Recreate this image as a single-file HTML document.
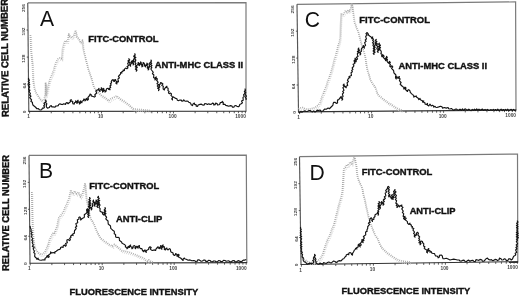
<!DOCTYPE html>
<html><head><meta charset="utf-8"><style>
html,body{margin:0;padding:0;background:#fff;width:520px;height:296px;overflow:hidden}
svg{position:absolute;left:0;top:0;will-change:transform}
text{font-family:"Liberation Sans",sans-serif;fill:#111}
text.lab{stroke:#111;stroke-width:0.4}
text.tk{fill:#444}
</style></head><body>
<svg width="520" height="296" viewBox="0 0 520 296">
<polyline points="27.75,2.9 246,2.6 246,111.2" fill="none" stroke="#7a7a7a" stroke-width="1.2"/>
<polyline points="27.75,2.9 28.8,111.3" fill="none" stroke="#555" stroke-width="1.15"/>
<polyline points="28.3,111.3 246.4,111.2" fill="none" stroke="#333" stroke-width="1.15"/>
<polyline points="29.0,155.4 246.3,155.2 246.8,262.6" fill="none" stroke="#7a7a7a" stroke-width="1.2"/>
<polyline points="29.0,155.4 30.0,263.2" fill="none" stroke="#555" stroke-width="1.15"/>
<polyline points="29.5,263.2 247.20000000000002,262.6" fill="none" stroke="#333" stroke-width="1.15"/>
<polyline points="297.0,4.3 515.6,1.9 516.0,110.0" fill="none" stroke="#7a7a7a" stroke-width="1.2"/>
<polyline points="297.0,4.3 298.5,111.9" fill="none" stroke="#555" stroke-width="1.15"/>
<polyline points="298.0,111.9 516.4,110.0" fill="none" stroke="#333" stroke-width="1.15"/>
<polyline points="299.5,156.7 517.5,154.0 517.8,261.6" fill="none" stroke="#7a7a7a" stroke-width="1.2"/>
<polyline points="299.5,156.7 301.0,264.5" fill="none" stroke="#555" stroke-width="1.15"/>
<polyline points="300.5,264.5 518.1999999999999,261.6" fill="none" stroke="#333" stroke-width="1.15"/>
<path d="M29.60,111.30v2.2 M51.25,111.29v2.0 M63.92,111.28v2.0 M72.91,111.28v2.0 M79.88,111.28v2.0 M85.58,111.27v2.0 M90.39,111.27v2.0 M94.56,111.27v2.0 M98.24,111.27v2.0 M101.53,111.27v2.2 M123.19,111.26v2.0 M135.85,111.25v2.0 M144.84,111.25v2.0 M151.81,111.24v2.0 M157.51,111.24v2.0 M162.32,111.24v2.0 M166.50,111.24v2.0 M170.18,111.23v2.0 M173.47,111.23v2.2 M195.12,111.22v2.0 M207.79,111.22v2.0 M216.77,111.21v2.0 M223.75,111.21v2.0 M229.44,111.21v2.0 M234.26,111.21v2.0 M238.43,111.20v2.0 M242.11,111.20v2.0 M245.40,111.20v2.2 M28.54,84.20h-1.5 M28.27,57.10h-1.5 M28.01,30.00h-1.5 M30.20,263.20v2.2 M51.87,263.14v2.0 M64.55,263.10v2.0 M73.55,263.08v2.0 M80.53,263.06v2.0 M86.23,263.04v2.0 M91.05,263.03v2.0 M95.22,263.02v2.0 M98.91,263.01v2.0 M102.20,263.00v2.2 M123.87,262.94v2.0 M136.55,262.91v2.0 M145.55,262.88v2.0 M152.53,262.86v2.0 M158.23,262.85v2.0 M163.05,262.83v2.0 M167.22,262.82v2.0 M170.91,262.81v2.0 M174.20,262.80v2.2 M195.87,262.74v2.0 M208.55,262.71v2.0 M217.55,262.68v2.0 M224.53,262.66v2.0 M230.23,262.65v2.0 M235.05,262.63v2.0 M239.22,262.62v2.0 M242.91,262.61v2.0 M246.20,262.60v2.2 M29.75,236.25h-1.5 M29.50,209.30h-1.5 M29.25,182.35h-1.5 M299.60,111.89v2.2 M321.27,111.70v2.0 M333.95,111.59v2.0 M342.95,111.51v2.0 M349.93,111.45v2.0 M355.63,111.40v2.0 M360.45,111.36v2.0 M364.62,111.32v2.0 M368.31,111.29v2.0 M371.60,111.26v2.2 M393.27,111.07v2.0 M405.95,110.96v2.0 M414.95,110.88v2.0 M421.93,110.82v2.0 M427.63,110.77v2.0 M432.45,110.73v2.0 M436.62,110.69v2.0 M440.31,110.66v2.0 M443.60,110.63v2.2 M465.27,110.44v2.0 M477.95,110.33v2.0 M486.95,110.25v2.0 M493.93,110.19v2.0 M499.63,110.14v2.0 M504.45,110.10v2.0 M508.62,110.06v2.0 M512.31,110.03v2.0 M515.60,110.00v2.2 M298.12,85.00h-1.5 M297.75,58.10h-1.5 M297.38,31.20h-1.5 M301.40,264.49v2.2 M323.07,264.20v2.0 M335.75,264.04v2.0 M344.75,263.91v2.0 M351.73,263.82v2.0 M357.43,263.75v2.0 M362.25,263.68v2.0 M366.42,263.62v2.0 M370.11,263.58v2.0 M373.40,263.53v2.2 M395.07,263.24v2.0 M407.75,263.07v2.0 M416.75,262.95v2.0 M423.73,262.86v2.0 M429.43,262.78v2.0 M434.25,262.72v2.0 M438.42,262.66v2.0 M442.11,262.61v2.0 M445.40,262.57v2.2 M467.07,262.28v2.0 M479.75,262.11v2.0 M488.75,261.99v2.0 M495.73,261.90v2.0 M501.43,261.82v2.0 M506.25,261.75v2.0 M510.42,261.70v2.0 M514.11,261.65v2.0 M517.40,261.61v2.2 M300.62,237.55h-1.5 M300.25,210.60h-1.5 M299.88,183.65h-1.5" stroke="#333" stroke-width="0.8" fill="none"/>
<polyline points="31.40,37.00 31.90,52.00 33.40,67.00 34.00,82.00 35.30,90.75 37.15,95.00 39.00,97.60 40.90,101.00 42.90,102.50 44.90,102.00 46.10,97.00 46.50,84.50 47.10,97.00 48.40,92.00 49.65,85.75 50.90,80.75 52.80,77.00 54.65,72.00 55.90,67.00 57.15,63.90 58.90,61.00 60.90,60.00 62.80,60.75 63.40,51.50 64.65,46.50 65.90,42.75 68.40,44.00 69.65,36.00 70.90,38.50 72.80,39.75 74.65,37.90 76.50,32.25 77.80,39.10 79.65,40.40 81.50,44.75 83.40,42.25 84.00,50.00 85.30,55.75 86.50,60.75 87.80,65.75 89.00,70.75 90.30,74.50 91.50,77.60 92.90,82.00 94.40,88.00 95.90,91.00 99.65,94.75 102.80,97.90 105.30,99.10 107.80,101.00 109.65,102.90 112.15,100.40 115.30,99.10 117.80,97.90 119.65,99.75 122.15,101.60 124.65,102.90 127.15,104.75 129.65,106.60 132.15,109.10 134.65,111.00 140.90,111.50 150.90,112.50" fill="none" stroke="#d2d2d2" stroke-width="1.3" stroke-dasharray="0.8 1.2" stroke-linejoin="round"/>
<polyline points="30.5,35 31,50 32.5,65 33.1,80 34.4,88.75 36.25,93 38.1,95.6 40,99 42,100.5 44,100 45.2,95 45.6,82.5 46.2,95 47.5,90 48.75,83.75 50,78.75 51.9,75 53.75,70 55,65 56.25,61.9 58,59 60,58 61.9,58.75 62.5,49.5 63.75,44.5 65,40.75 67.5,42 68.75,34 70,36.5 71.9,37.75 73.75,35.9 75.6,30.25 76.9,37.1 78.75,38.4 80.6,42.75 82.5,40.25 83.1,48 84.4,53.75 85.6,58.75 86.9,63.75 88.1,68.75 89.4,72.5 90.6,75.6 92,80 93.5,86 95,89 98.75,92.75 101.9,95.9 104.4,97.1 106.9,99 108.75,100.9 111.25,98.4 114.4,97.1 116.9,95.9 118.75,97.75 121.25,99.6 123.75,100.9 126.25,102.75 128.75,104.6 131.25,107.1 133.75,109 140,109.5 150,110.5" fill="none" stroke="#a8a8a8" stroke-width="1.7" stroke-dasharray="0.9 1.1" stroke-linejoin="round"/>
<polyline points="28.8,78 28.33,79.13 29.48,80.2 28.23,81.35 29.44,82.43 28.46,83.57 29.8,84.64 28.29,85.8 29.68,86.87 29.1,88.0 28.6,89.22 29.99,90.17 29.07,91.45 29.75,92.5 30.43,93.68 29.48,95.08 31.02,96.15 29.69,97.6 30.6,98.75 31.6,99.8 30.9,101.5 32.4,102.36 32.5,103.75 33.1,105.27 34.4,106.25 35.6,107.25 36.9,108.75 38.38,108.68 39.4,109.75 40.72,110.04 41.9,109.4 42.36,108.09 43.75,108.1 44.52,107.1 43.71,105.74 44.92,104.83 43.94,103.44 45.0,102.5 45.94,101.4 45.6,100.0 46.29,101.17 45.6,102.58 46.8,103.66 46.5,105.0 46.32,106.77 47.5,108.1 49.4,107.5 49.94,106.17 51.25,105.6 51.73,106.88 53.1,106.9 55.0,107.25 55.62,106.12 56.9,106.0 58.22,105.66 58.75,104.4 60.0,103.8 61.25,104.4 62.62,104.55 63.75,103.75 65.6,104.4 65.84,103.17 66.9,102.5 68.1,103.75 69.4,102.5 70.52,101.85 70.23,100.31 71.25,99.6 70.93,100.94 72.77,101.43 72.5,102.75 73.15,103.83 74.4,104.0 74.3,102.77 75.73,102.14 75.6,100.9 76.68,101.92 76.9,103.4 77.71,102.51 77.21,101.12 78.1,100.25 77.98,101.69 79.45,102.58 79.4,104.0 80.36,103.19 79.83,101.79 80.6,100.9 80.79,102.15 81.9,102.75 81.96,101.23 83.59,100.48 83.75,99.0 84.98,99.55 85.0,100.9 86.13,99.9 86.25,98.4 87.22,99.09 87.5,100.25 88.51,99.2 87.81,97.58 88.75,96.5 89.7,95.41 90.0,94.0 91.13,94.62 91.25,95.9 93.1,96.5 94.4,97.1 95.36,96.29 94.72,94.85 95.6,94.0 96.76,93.0 95.83,91.28 96.9,90.25 98.1,89.6 99.0,88.4 98.72,90.2 100.0,91.5 99.98,90.1 101.36,89.18 101.25,87.75 102.21,88.65 101.52,90.03 102.61,90.89 102.5,92.1 103.63,91.11 102.95,89.5 103.75,88.4 103.71,89.79 105.05,90.71 105.0,92.1 106.14,91.11 106.25,89.6 106.88,88.54 108.1,88.4 108.73,89.51 110.0,89.6 109.39,88.32 110.72,87.34 109.86,86.02 111.17,85.04 110.42,83.74 111.55,82.73 111.25,81.5 111.86,80.24 113.1,79.6 113.26,80.89 114.4,81.5 114.3,80.11 115.6,79.6 115.45,80.84 116.99,81.58 115.78,83.14 116.9,84.0 116.76,82.58 118.46,81.74 118.1,80.25 117.95,78.88 119.38,77.91 118.42,76.33 119.4,75.25 120.48,74.08 120.6,72.5 121.9,73.1 121.75,71.85 123.12,71.2 123.1,70.0 124.4,70.6 124.48,69.1 125.6,68.1 126.9,68.75 127.97,67.88 127.0,66.44 128.53,65.69 128.1,64.4 127.62,63.2 129.18,62.23 127.85,60.94 129.39,59.97 128.75,58.75 129.72,59.86 128.49,61.4 130.04,62.39 129.75,63.75 129.7,65.16 130.6,66.25 130.42,64.74 131.42,63.41 131.25,61.9 132.25,60.6 133.04,61.59 132.14,62.9 133.39,63.8 133.1,65.0 133.77,63.82 132.83,62.41 134.19,61.33 133.35,59.93 134.0,58.75 134.69,57.58 133.63,56.14 135.07,55.08 134.75,53.75 135.24,54.97 134.37,56.3 135.9,57.43 134.47,58.81 135.83,59.95 135.4,61.25 134.9,62.41 135.95,63.44 135.13,64.63 136.25,65.65 135.31,66.85 136.58,67.86 135.32,69.09 136.57,70.1 136.25,71.25 136.99,70.09 135.83,68.62 137.3,67.57 136.4,66.15 137.25,65.0 138.12,63.9 138.1,62.5 139.1,63.3 138.34,64.83 139.4,65.6 139.44,64.25 140.59,63.26 140.6,61.9 141.43,63.02 140.8,64.52 142.07,65.52 141.9,66.9 142.99,66.02 142.12,64.6 143.45,63.78 143.1,62.5 144.2,63.14 144.4,64.4 144.63,65.83 145.6,66.9 145.25,65.36 146.84,64.49 146.9,63.1 147.73,64.14 146.57,65.53 148.17,66.43 147.18,67.79 148.38,68.77 148.1,70.0 148.89,69.04 148.29,67.66 149.69,66.88 149.4,65.6 149.05,63.84 150.25,62.5 151.25,61.44 151.0,60.0 151.49,61.09 150.46,62.25 151.69,63.31 150.39,64.49 151.96,65.52 150.85,66.69 151.82,67.76 150.9,68.92 151.5,70.0 152.5,71.25 153.27,72.32 152.39,73.82 153.81,74.72 153.75,76.0 153.56,77.52 155.04,78.52 155.0,80.0 155.75,79.1 155.29,77.71 156.25,76.9 156.11,78.12 157.46,78.91 156.62,80.33 157.5,81.25 158.08,82.37 156.96,83.67 158.7,84.67 157.3,86.0 158.52,87.05 157.63,88.33 159.17,89.35 158.5,90.6 159.19,89.43 158.47,88.01 159.87,86.97 159.4,85.6 159.35,84.39 160.97,83.83 160.6,82.5 161.9,83.1 162.95,83.99 161.79,85.49 163.38,86.24 163.1,87.5 163.18,89.05 164.4,90.0 164.59,88.55 165.6,87.5 166.9,86.25 166.57,87.58 168.11,88.19 168.1,89.4 167.93,90.64 169.15,91.46 168.43,92.86 169.4,93.75 170.6,93.1 171.53,93.95 170.93,95.42 171.9,96.25 172.81,97.39 171.73,98.84 172.5,100.0 172.27,98.21 173.5,96.9 175.0,98.1 176.9,98.75 177.32,100.18 178.75,100.6 180.0,100.0 181.29,100.11 181.9,101.25 183.11,100.85 183.75,99.75 185.0,101.25 186.9,101.0 188.05,101.29 188.75,102.25 190.6,103.1 191.12,104.68 192.5,105.6 193.02,104.02 194.4,103.1 194.66,104.36 196.22,104.85 196.25,106.25 197.64,106.31 198.1,105.0 200.0,104.4 201.4,104.07 202.5,105.0 203.95,105.18 204.83,103.65 206.25,103.75 207.41,104.47 208.83,103.73 210.0,104.4 211.5,104.22 212.5,103.1 213.74,103.65 213.75,105.0 215.22,104.58 215.6,103.1 217.1,103.5 217.5,105.0 218.93,104.74 220.0,103.75 220.3,102.51 221.96,102.5 222.25,101.25 223.31,102.65 223.1,104.4 225.0,104.4 225.75,105.32 226.9,105.6 228.75,106.25 230.6,105.6 231.96,105.95 232.5,107.25 233.81,107.17 234.4,106.0 235.72,105.47 236.9,106.25 238.22,106.81 239.4,106.0 239.77,104.42 241.25,103.75 242.45,102.77 241.48,100.99 243.24,100.22 243.1,98.75 242.98,97.38 244.3,96.39 243.49,94.85 244.4,93.75 245.05,92.63 244.28,91.32 245.43,90.26 245.0,89.0 245.52,90.16 244.8,91.44 245.77,92.56 245.04,93.84 245.6,95.0 246.39,96.19 245.33,97.54 246.27,98.72 246.0,100.0" fill="none" stroke="#151515" stroke-width="1.15"  stroke-linejoin="round"/>
<polyline points="32.70,194.00 33.20,217.00 33.70,232.00 34.40,242.00 35.30,248.25 37.15,252.00 38.40,253.90 40.30,255.75 41.90,256.50 44.00,255.75 45.90,253.90 47.80,249.50 49.00,247.00 50.30,242.00 51.50,239.50 52.80,237.00 54.00,234.50 55.30,235.10 56.50,232.00 57.80,228.75 59.65,220.00 61.50,217.50 63.40,215.00 64.65,213.10 65.90,209.40 67.90,205.50 69.80,200.70 71.70,192.00 73.70,195.90 75.60,193.00 77.50,195.90 79.40,194.00 81.40,198.80 83.30,195.90 85.20,189.20 85.90,185.00 86.70,194.00 87.40,201.25 89.10,209.40 90.00,215.00 91.50,220.75 93.40,223.25 95.30,227.00 96.50,230.75 97.80,233.25 99.00,235.75 100.30,238.25 102.15,240.75 104.00,242.00 105.90,243.90 107.80,244.50 109.65,246.40 111.50,247.00 113.40,248.25 115.30,246.40 117.15,247.60 119.00,249.50 120.90,250.75 122.80,252.60 126.90,253.50 130.90,254.50 135.90,256.50 140.90,258.75 142.80,259.40 144.65,260.00 146.50,261.90 148.40,263.10 149.65,261.90 152.15,263.75 154.65,264.40" fill="none" stroke="#d2d2d2" stroke-width="1.3" stroke-dasharray="0.8 1.2" stroke-linejoin="round"/>
<polyline points="31.8,192 32.3,215 32.8,230 33.5,240 34.4,246.25 36.25,250 37.5,251.9 39.4,253.75 41,254.5 43.1,253.75 45,251.9 46.9,247.5 48.1,245 49.4,240 50.6,237.5 51.9,235 53.1,232.5 54.4,233.1 55.6,230 56.9,226.75 58.75,218 60.6,215.5 62.5,213 63.75,211.1 65,207.4 67,203.5 68.9,198.7 70.8,190 72.8,193.9 74.7,191 76.6,193.9 78.5,192 80.5,196.8 82.4,193.9 84.3,187.2 85,183 85.8,192 86.5,199.25 88.2,207.4 89.1,213 90.6,218.75 92.5,221.25 94.4,225 95.6,228.75 96.9,231.25 98.1,233.75 99.4,236.25 101.25,238.75 103.1,240 105,241.9 106.9,242.5 108.75,244.4 110.6,245 112.5,246.25 114.4,244.4 116.25,245.6 118.1,247.5 120,248.75 121.9,250.6 126,251.5 130,252.5 135,254.5 140,256.75 141.9,257.4 143.75,258 145.6,259.9 147.5,261.1 148.75,259.9 151.25,261.75 153.75,262.4" fill="none" stroke="#a8a8a8" stroke-width="1.7" stroke-dasharray="0.9 1.1" stroke-linejoin="round"/>
<polyline points="30,226 30.5,228.0 31.25,230.0 30.73,231.3 32.18,232.44 31.02,233.8 32.22,234.95 31.31,236.29 31.9,237.5 32.87,238.64 31.68,240.08 32.79,241.2 32.16,242.56 32.75,243.75 33.32,244.94 32.36,246.38 34.17,247.37 33.12,248.82 33.75,250.0 34.43,251.16 33.76,252.6 35.0,253.65 34.75,255.0 34.65,256.43 35.6,257.5 36.56,258.24 36.9,259.4 38.1,258.1 38.29,259.36 39.4,260.0 41.25,260.25 43.1,259.75 45.0,260.0 44.97,258.42 46.25,257.5 47.25,255.6 48.1,257.5 49.25,256.77 48.41,255.2 49.4,254.4 50.63,253.45 50.6,251.9 51.9,253.1 53.1,252.5 55.0,253.1 54.94,251.71 56.25,251.25 57.75,250.0 59.4,249.4 60.54,248.79 60.6,247.5 61.9,246.9 63.1,247.5 63.16,245.94 64.4,245.0 65.6,246.25 66.29,245.09 65.53,243.56 67.35,242.7 66.9,241.25 66.92,239.95 68.1,239.4 69.4,240.6 70.4,239.71 69.61,238.32 70.98,237.53 70.6,236.25 71.9,235.0 73.1,235.6 72.74,234.09 74.4,233.28 74.4,231.9 74.56,230.48 75.6,229.5 76.25,228.45 75.39,227.17 76.81,226.23 76.25,225.0 75.9,223.5 77.76,222.73 77.5,221.25 77.32,219.8 79.08,219.0 78.75,217.5 79.75,216.9 80.74,218.29 80.6,220.0 81.9,218.75 83.1,218.1 84.2,217.49 84.4,216.25 84.3,214.66 85.6,213.75 86.86,212.82 86.9,211.25 86.48,209.83 87.5,208.75 86.89,209.93 88.33,210.87 87.13,212.12 88.53,213.06 87.68,214.27 88.67,215.26 87.76,216.48 88.5,217.5 87.91,216.36 89.29,215.31 87.88,214.13 89.21,213.08 88.28,211.92 89.4,210.86 88.12,209.68 89.66,208.65 89.0,207.5 88.46,206.35 89.96,205.33 88.62,204.13 89.67,203.08 88.57,201.9 89.95,200.87 88.97,199.69 89.93,198.63 89.6,197.5 90.23,198.57 88.98,199.77 90.54,200.79 89.28,201.98 90.58,203.02 89.58,204.2 90.78,205.23 89.58,206.43 90.25,207.5 91.4,208.49 91.25,210.0 91.94,208.84 91.47,207.4 92.65,206.37 92.5,205.0 92.1,203.62 93.6,202.62 92.88,201.18 93.5,200.0 93.36,201.36 94.61,202.38 94.4,203.75 94.0,205.17 95.0,206.25 94.6,204.9 95.84,203.82 95.18,202.43 96.19,201.31 96.0,200.0 97.03,201.04 96.9,202.5 96.57,203.84 97.88,204.91 96.82,206.37 97.75,207.5 97.01,206.32 98.38,205.28 97.14,204.07 98.82,203.05 97.33,201.82 98.67,200.78 97.8,199.59 99.12,198.55 97.6,197.32 98.5,196.25 98.23,197.39 99.19,198.43 98.03,199.65 99.69,200.62 98.29,201.87 99.53,202.88 98.83,204.06 100.07,205.07 99.4,206.25 99.05,207.59 100.17,208.69 100.0,210.0 100.05,211.33 101.25,211.9 102.53,212.38 102.5,213.75 103.75,215.0 104.63,213.86 103.79,212.44 105.0,211.35 104.2,209.94 105.24,208.82 105.0,207.5 105.47,208.69 104.64,209.97 105.84,211.1 104.68,212.4 105.9,213.54 104.74,214.84 105.6,216.0 106.6,217.15 105.74,218.9 106.9,220.0 108.03,221.0 108.1,222.5 108.23,224.02 109.4,225.0 110.38,225.71 110.6,226.9 110.75,228.41 111.9,229.4 113.1,230.6 114.25,231.21 114.4,232.5 114.18,233.77 115.59,234.42 115.6,235.6 115.67,236.95 116.9,237.5 118.1,237.25 119.32,237.98 119.4,239.4 119.56,240.61 120.6,241.25 121.58,241.95 121.9,243.1 123.1,243.75 124.4,244.4 125.6,245.6 125.34,246.94 126.99,247.48 126.9,248.75 128.05,247.76 128.1,246.25 129.4,247.5 129.54,246.03 130.6,245.0 130.41,246.47 131.91,247.35 131.9,248.75 133.13,247.8 133.1,246.25 134.4,245.6 135.33,246.45 134.85,247.84 135.6,248.75 135.85,247.29 136.9,246.25 137.12,247.42 138.1,248.1 138.01,246.46 139.4,245.6 139.33,247.37 140.6,248.6 141.9,248.6 142.5,250.5 143.75,251.75 143.93,250.52 145.0,249.9 145.21,251.36 146.25,252.4 146.19,250.81 147.5,249.9 148.66,249.3 148.75,248.0 150.0,246.75 151.17,247.5 150.35,249.04 151.25,249.9 152.5,250.5 154.4,249.9 155.6,250.5 155.92,249.08 156.9,248.0 158.1,246.75 158.33,247.97 159.4,248.6 159.44,247.43 160.72,246.74 160.6,245.5 161.46,246.6 160.73,248.26 161.9,249.25 161.52,247.98 163.0,247.21 162.07,245.79 163.1,244.9 162.87,246.21 164.35,246.8 164.4,248.0 164.31,249.39 165.6,249.9 165.75,248.61 166.9,248.0 167.07,249.22 168.1,249.9 169.4,248.6 170.36,249.32 170.6,250.5 170.75,251.79 171.9,252.4 173.11,252.93 173.1,254.25 174.4,255.5 175.4,254.81 175.6,253.6 176.97,254.48 176.9,256.1 178.19,255.62 178.1,254.25 179.16,255.04 178.25,256.65 179.4,257.4 180.6,258.0 181.9,259.25 183.1,260.5 183.2,258.96 184.4,258.0 185.05,259.03 186.25,259.25 188.1,260.25 190.0,259.9 191.9,260.75 193.75,260.5 194.96,260.71 195.6,261.75 197.04,261.49 197.5,260.1 198.84,259.71 200.0,260.5 201.15,261.25 202.5,261.0 203.58,260.07 205.0,260.1 205.91,261.41 207.5,261.4 208.52,260.31 210.0,260.5 211.07,261.49 212.5,261.75 213.62,260.95 215.0,261.0 216.13,261.76 217.5,261.75 218.49,260.59 220.0,260.75 221.06,261.8 222.5,261.4 223.52,260.32 225.0,260.5 226.16,261.2 227.5,261.0 228.89,260.91 230.0,261.75 231.48,261.83 232.5,260.75 233.93,260.51 235.0,261.5 236.41,262.07 237.5,261.0 238.84,260.62 240.0,261.4 241.44,261.8 242.5,260.75 243.66,260.06 245.0,260.1 246.25,259.5" fill="none" stroke="#151515" stroke-width="1.15"  stroke-linejoin="round"/>
<polyline points="299.40,111.00 300.90,110.10 303.40,109.50 305.90,110.75 308.40,111.40 312.15,110.75 314.65,110.10 317.15,108.70 319.00,107.25 320.90,104.75 322.15,101.00 323.40,97.25 324.65,94.75 325.90,91.00 327.15,88.50 328.40,83.50 329.65,81.00 330.90,77.25 331.50,75.25 332.80,71.50 334.00,66.50 335.30,61.50 336.50,57.75 337.80,52.75 339.00,47.75 340.30,44.00 341.20,39.00 341.50,27.00 342.10,16.00 344.00,16.40 345.30,14.50 346.50,12.60 347.80,13.90 349.00,12.00 350.30,13.25 351.50,10.75 352.80,5.75 353.40,9.50 354.00,14.50 354.65,19.50 355.30,24.50 356.50,27.00 357.15,29.50 359.00,33.25 360.30,38.25 361.50,43.25 362.80,47.60 364.00,51.40 365.30,55.75 366.50,60.75 367.15,66.50 368.40,72.75 369.65,76.00 370.90,81.00 372.15,83.50 373.40,85.40 374.65,87.25 375.90,88.50 377.15,92.25 378.40,96.00 380.30,97.90 382.15,99.10 384.00,101.00 385.90,102.25 387.80,103.50 389.65,105.40 391.50,106.00 393.40,107.25 395.90,109.10 398.40,110.40 400.90,111.60 403.40,112.25" fill="none" stroke="#d2d2d2" stroke-width="1.3" stroke-dasharray="0.8 1.2" stroke-linejoin="round"/>
<polyline points="298.5,109 300,108.1 302.5,107.5 305,108.75 307.5,109.4 311.25,108.75 313.75,108.1 316.25,106.7 318.1,105.25 320,102.75 321.25,99 322.5,95.25 323.75,92.75 325,89 326.25,86.5 327.5,81.5 328.75,79 330,75.25 330.6,73.25 331.9,69.5 333.1,64.5 334.4,59.5 335.6,55.75 336.9,50.75 338.1,45.75 339.4,42 340.3,37 340.6,25 341.2,14 343.1,14.4 344.4,12.5 345.6,10.6 346.9,11.9 348.1,10 349.4,11.25 350.6,8.75 351.9,3.75 352.5,7.5 353.1,12.5 353.75,17.5 354.4,22.5 355.6,25 356.25,27.5 358.1,31.25 359.4,36.25 360.6,41.25 361.9,45.6 363.1,49.4 364.4,53.75 365.6,58.75 366.25,64.5 367.5,70.75 368.75,74 370,79 371.25,81.5 372.5,83.4 373.75,85.25 375,86.5 376.25,90.25 377.5,94 379.4,95.9 381.25,97.1 383.1,99 385,100.25 386.9,101.5 388.75,103.4 390.6,104 392.5,105.25 395,107.1 397.5,108.4 400,109.6 402.5,110.25" fill="none" stroke="#a8a8a8" stroke-width="1.7" stroke-dasharray="0.9 1.1" stroke-linejoin="round"/>
<polyline points="298.5,111.9 299.67,112.57 300.72,111.33 301.91,112.22 303.0,111.6 304.46,110.92 306.0,111.4 307.52,111.5 308.75,110.6 310.2,110.5 311.25,111.5 312.52,111.85 313.73,110.89 315.04,112.12 316.25,111.25 317.27,110.09 318.75,110.5 320.0,110.0 321.25,111.3 322.77,111.16 323.75,110.0 324.79,108.96 326.25,109.2 328.1,108.1 329.4,108.75 330.6,107.5 331.9,106.25 332.94,105.21 333.1,103.75 333.6,102.44 335.0,102.3 336.25,103.4 337.57,102.91 337.5,101.5 337.46,100.11 338.75,99.6 340.0,97.9 341.25,96.4 340.65,97.82 342.38,98.85 341.9,100.25 342.74,99.11 341.92,97.68 343.05,96.59 342.75,95.25 342.38,93.94 343.66,92.82 342.7,91.44 343.96,90.32 343.5,89.0 342.88,87.68 344.26,86.55 343.14,85.18 344.0,84.0 344.09,85.41 345.0,86.5 346.25,87.75 345.99,86.34 347.69,85.46 347.25,84.0 347.09,82.69 348.43,81.63 347.42,80.17 348.1,79.0 349.12,77.95 349.0,76.5 350.0,77.75 349.63,76.24 351.47,75.46 351.25,74.0 351.02,72.69 352.39,71.81 351.61,70.35 352.9,69.44 352.15,68.0 353.1,67.0 353.86,65.86 353.08,64.33 354.86,63.45 354.4,62.0 354.05,60.65 355.29,59.54 355.0,58.2 355.75,59.38 354.91,60.81 355.6,62.0 356.25,61.25 356.13,59.93 357.54,58.91 356.34,57.37 358.06,56.41 357.5,55.0 357.34,53.78 358.47,52.8 357.38,51.41 358.76,50.48 358.1,49.17 358.75,48.1 358.44,49.27 359.58,50.23 358.57,51.5 359.4,52.5 360.44,53.57 360.0,55.0 360.77,53.86 359.97,52.34 361.42,51.37 361.25,50.0 361.48,48.55 362.5,47.5 363.5,45.6 363.45,47.03 364.4,48.1 364.15,46.59 365.58,45.31 365.0,43.75 364.64,42.41 366.09,41.36 365.23,39.94 366.48,38.86 366.0,37.5 365.68,36.15 367.2,35.14 365.98,33.63 366.9,32.5 368.1,33.75 368.67,35.29 370.0,36.25 371.42,37.15 371.9,38.75 372.75,36.9 372.32,38.11 373.5,39.19 372.66,40.44 373.78,41.52 372.42,42.81 373.97,43.86 372.89,45.12 373.5,46.25 374.06,47.4 373.28,48.63 374.33,49.75 373.13,51.0 374.59,52.1 373.23,53.36 374.0,54.5 373.72,53.27 375.05,52.21 373.81,50.88 375.13,49.82 374.13,48.51 375.14,47.42 374.36,46.13 375.0,45.0 375.81,44.0 375.02,42.65 376.32,41.77 375.21,40.34 376.25,39.4 375.62,40.65 376.9,41.67 375.86,42.97 377.62,43.93 376.2,45.28 377.65,46.28 377.25,47.5 376.77,48.87 378.4,49.88 377.35,51.34 378.1,52.5 377.56,51.23 378.89,50.21 378.2,48.92 379.42,47.89 378.54,46.57 379.75,45.54 378.64,44.19 379.4,43.1 379.01,44.32 380.47,45.3 379.25,46.62 380.55,47.63 379.32,48.95 380.25,50.0 381.15,51.09 381.25,52.5 380.89,53.74 382.21,54.6 381.51,55.91 382.25,56.9 383.1,55.0 384.09,56.06 383.52,57.66 384.4,58.75 385.34,59.45 385.6,60.6 386.48,59.65 385.43,58.3 386.64,57.41 386.5,56.25 387.31,57.29 386.47,58.62 387.52,59.63 386.89,60.92 387.5,62.0 388.75,63.25 389.4,61.4 390.34,62.37 389.44,63.73 390.49,64.68 389.72,66.02 390.6,67.0 391.9,65.75 392.74,66.9 391.55,68.37 392.5,69.5 393.46,70.23 393.75,71.4 393.9,72.93 395.0,74.0 396.01,75.08 395.6,76.5 395.51,77.86 396.25,79.0 396.0,77.6 396.9,76.5 397.14,77.68 398.1,78.4 398.42,77.23 399.4,76.5 399.03,77.81 400.09,78.95 399.42,80.3 400.0,81.5 401.08,82.53 400.14,84.23 401.25,85.25 402.5,86.5 403.84,87.39 403.75,89.0 404.96,88.43 405.0,87.1 406.01,87.92 405.41,89.37 406.25,90.25 407.5,91.5 407.76,90.31 408.75,89.6 410.0,90.9 410.27,92.33 411.25,93.4 412.5,94.6 413.78,95.52 413.75,97.1 415.0,96.5 416.25,95.9 416.46,97.11 417.5,97.75 418.51,98.41 418.75,99.6 420.0,98.4 420.26,99.57 421.25,100.25 422.48,100.77 422.5,102.1 423.75,100.9 423.46,102.22 424.97,102.81 425.0,104.0 426.25,104.6 427.5,103.4 427.4,105.01 428.75,105.9 430.0,104.2 431.25,106.0 432.5,105.25 433.52,105.91 433.75,107.1 435.0,106.25 435.73,107.22 436.9,107.5 438.75,106.9 440.6,106.25 441.97,106.75 442.5,108.1 444.4,107.5 446.25,108.1 448.1,107.5 448.7,108.7 450.0,109.0 451.37,108.47 452.5,109.4 453.75,110.19 455.0,109.4 456.32,109.05 457.5,109.75 458.76,110.19 459.99,109.1 461.26,110.29 462.49,108.93 463.76,110.31 464.99,108.85 466.25,109.6 467.45,110.22 468.83,109.15 470.0,110.0 471.15,110.62 472.23,109.43 473.39,110.27 474.48,109.21 475.64,110.23 476.72,108.97 477.89,110.1 478.98,109.2 480.15,110.26 481.25,109.6 482.53,109.14 483.72,110.3 485.02,109.41 486.23,110.28 487.53,109.38 488.73,110.46 490.0,110.1 491.1,109.64 492.23,110.46 493.32,109.35 494.45,110.39 495.55,109.5 496.68,110.59 497.76,109.22 498.9,110.69 500.0,109.9 501.12,109.14 502.21,110.75 503.34,109.49 504.44,110.67 505.56,109.44 506.66,110.63 507.79,109.23 508.88,110.67 510.0,110.0 511.19,109.34 512.41,110.66 513.59,109.43 514.81,110.57 516.0,109.9" fill="none" stroke="#151515" stroke-width="1.15"  stroke-linejoin="round"/>
<polyline points="302.40,252.00 302.80,258.25 304.65,261.40 306.00,261.70 307.15,262.60 309.00,263.90 310.90,264.50 313.90,264.50 316.90,264.00 318.40,263.25 319.65,262.00 321.50,260.10 322.80,257.60 324.00,255.10 325.30,250.75 326.50,247.00 327.80,243.25 329.00,240.75 330.30,238.25 331.50,235.00 332.90,231.00 334.65,227.00 335.30,224.75 336.50,219.75 337.80,214.75 339.00,209.75 340.30,204.75 341.50,201.00 342.80,196.00 343.40,191.00 344.00,182.00 344.65,171.50 345.30,169.60 346.50,169.00 347.80,166.50 349.00,167.75 350.30,165.25 351.50,164.00 352.80,165.90 354.00,162.75 355.30,158.40 356.15,162.75 357.15,167.75 357.80,175.25 358.40,179.00 359.65,182.75 360.90,185.25 362.15,187.75 363.40,191.50 364.00,196.00 365.30,200.40 366.50,206.00 367.80,212.25 369.00,217.25 370.30,222.25 371.40,226.00 372.80,229.00 374.65,234.00 376.50,237.75 378.40,240.25 380.30,245.25 382.15,249.00 384.00,250.90 385.90,252.75 387.80,254.60 389.65,255.90 391.50,257.10 393.40,258.40 395.30,259.60 397.15,261.00 400.90,262.50 405.90,263.50 410.90,264.00" fill="none" stroke="#d2d2d2" stroke-width="1.3" stroke-dasharray="0.8 1.2" stroke-linejoin="round"/>
<polyline points="301.5,250 301.9,256.25 303.75,259.4 305.1,259.7 306.25,260.6 308.1,261.9 310,262.5 313,262.5 316,262 317.5,261.25 318.75,260 320.6,258.1 321.9,255.6 323.1,253.1 324.4,248.75 325.6,245 326.9,241.25 328.1,238.75 329.4,236.25 330.6,233 332,229 333.75,225 334.4,222.75 335.6,217.75 336.9,212.75 338.1,207.75 339.4,202.75 340.6,199 341.9,194 342.5,189 343.1,180 343.75,169.5 344.4,167.6 345.6,167 346.9,164.5 348.1,165.75 349.4,163.25 350.6,162 351.9,163.9 353.1,160.75 354.4,156.4 355.25,160.75 356.25,165.75 356.9,173.25 357.5,177 358.75,180.75 360,183.25 361.25,185.75 362.5,189.5 363.1,194 364.4,198.4 365.6,204 366.9,210.25 368.1,215.25 369.4,220.25 370.5,224 371.9,227 373.75,232 375.6,235.75 377.5,238.25 379.4,243.25 381.25,247 383.1,248.9 385,250.75 386.9,252.6 388.75,253.9 390.6,255.1 392.5,256.4 394.4,257.6 396.25,259 400,260.5 405,261.5 410,262" fill="none" stroke="#a8a8a8" stroke-width="1.7" stroke-dasharray="0.9 1.1" stroke-linejoin="round"/>
<polyline points="300.7,227 300.36,228.19 301.22,229.35 300.34,230.56 301.43,231.71 300.19,232.92 301.27,234.08 300.09,235.29 301.69,236.44 300.46,237.65 301.72,238.8 301.0,240.0 300.59,241.12 301.78,242.2 300.5,243.35 301.81,244.42 300.39,245.58 301.99,246.64 300.68,247.79 301.76,248.87 301.3,250.0 301.02,251.2 302.37,252.12 301.38,253.44 302.58,254.39 302.25,255.6 302.1,256.96 303.41,258.0 303.1,259.4 303.42,260.82 304.4,261.9 305.59,262.09 306.25,263.1 307.37,264.09 308.75,263.5 310.02,263.1 311.25,263.6 313.1,263.1 314.0,261.96 312.71,260.51 314.23,259.47 313.39,258.08 314.0,256.9 314.71,255.75 314.6,254.4 315.41,255.53 314.32,256.99 315.25,258.1 315.92,259.28 315.21,260.65 316.3,261.78 315.9,263.1 317.5,263.8 318.77,264.2 319.97,263.14 321.25,263.6 322.56,264.05 323.67,262.54 325.0,263.2 326.42,263.44 327.5,262.5 328.77,262.01 330.0,262.6 331.42,262.85 332.5,261.9 333.63,260.98 335.0,261.5 336.13,262.45 337.5,261.9 338.24,260.94 339.4,260.6 340.81,260.98 341.9,260.0 342.62,259.07 343.75,258.75 345.0,257.0 345.96,256.27 346.25,255.1 347.5,254.25 348.75,254.75 348.77,253.32 350.0,252.6 351.25,253.25 351.5,254.43 352.5,255.1 352.54,253.4 353.5,252.0 354.4,250.1 355.32,249.38 355.6,248.25 356.9,248.9 356.66,247.6 358.19,246.99 358.1,245.75 358.3,244.51 359.4,243.9 359.1,245.65 360.25,247.0 359.67,245.77 361.27,244.91 360.2,243.6 361.0,242.6 361.85,241.17 361.9,239.5 363.08,240.23 362.13,241.79 363.1,242.6 362.5,241.3 363.94,240.39 363.31,239.09 364.43,238.12 363.37,236.74 364.4,235.75 365.74,234.86 365.6,233.25 365.54,232.0 367.08,231.4 366.9,230.1 367.75,228.25 367.69,226.67 368.75,225.5 369.44,224.46 368.35,223.12 370.12,222.26 369.5,221.0 370.0,219.0 371.25,217.75 372.15,218.84 371.72,220.37 372.5,221.5 372.19,220.01 373.94,219.2 373.75,217.75 375.0,216.5 374.92,214.9 376.25,214.0 377.41,213.4 377.5,212.1 378.51,213.54 378.1,215.25 378.57,214.13 377.52,212.91 378.76,211.84 377.89,210.63 379.05,209.56 377.94,208.34 379.01,207.25 377.97,206.04 379.18,204.96 378.14,203.75 379.76,202.7 379.0,201.5 379.54,202.71 378.57,204.07 379.91,205.2 378.72,206.58 380.36,207.68 379.75,209.0 380.48,207.85 379.9,206.41 380.6,205.25 381.42,204.13 380.96,202.57 381.9,201.5 381.84,202.9 383.07,203.88 383.1,205.25 383.99,204.1 382.77,202.65 384.33,201.6 383.28,200.17 384.0,199.0 384.4,199.5 385.31,198.4 384.37,196.85 385.84,195.88 385.6,194.5 385.14,193.13 386.67,192.11 385.71,190.65 386.5,189.5 387.56,188.47 387.5,187.0 388.5,186.4 389.27,187.54 388.13,188.78 389.42,189.9 387.98,191.15 389.3,192.26 388.38,193.49 389.62,194.61 388.47,195.84 389.0,197.0 388.89,195.6 389.75,194.5 389.8,195.88 390.6,197.0 391.5,198.9 391.2,197.72 392.41,196.79 391.48,195.5 392.25,194.5 391.82,195.86 393.34,196.89 392.06,198.39 393.1,199.5 392.76,198.33 394.13,197.42 393.2,196.16 394.51,195.24 393.44,193.96 394.76,193.04 393.53,191.74 394.4,190.75 395.0,189.5 394.64,190.81 396.05,191.91 394.66,193.35 395.6,194.5 396.41,195.69 395.33,197.04 396.29,198.22 395.38,199.56 396.61,200.71 396.25,202.0 395.81,203.17 397.34,204.1 396.19,205.35 397.27,206.34 396.9,207.5 397.96,206.47 398.1,205.0 399.13,205.69 399.4,206.9 400.6,205.6 401.9,205.0 401.47,206.32 403.0,207.4 401.74,208.82 402.5,210.0 403.22,211.16 402.4,212.62 403.71,213.66 403.5,215.0 403.09,216.23 404.45,217.1 403.52,218.43 404.4,219.4 404.22,217.73 405.0,216.25 404.68,217.52 406.23,218.25 405.15,219.74 406.25,220.6 407.43,221.57 407.5,223.1 408.75,224.4 410.0,223.1 409.83,224.38 411.42,224.97 411.25,226.25 412.5,226.5 412.02,227.85 413.86,228.54 412.92,230.02 413.75,231.0 414.45,232.16 413.65,233.62 415.06,234.64 414.19,236.11 415.0,237.25 414.78,235.79 416.63,235.01 416.25,233.5 417.5,232.25 418.45,233.32 417.9,234.89 418.75,236.0 419.67,236.99 418.69,238.24 419.62,239.22 418.7,240.47 420.34,241.35 418.96,242.67 420.59,243.55 420.0,244.75 421.02,243.7 420.4,242.1 421.25,241.0 422.5,241.6 422.56,242.79 423.69,243.56 423.75,244.75 423.49,246.0 424.89,246.78 424.16,248.16 425.0,249.1 426.25,249.75 427.3,250.55 426.57,252.05 427.5,252.9 427.06,251.59 428.77,250.88 427.81,249.42 428.75,248.5 428.41,250.0 430.06,250.84 430.0,252.25 431.25,251.6 431.71,253.0 433.1,253.5 434.46,253.5 435.0,254.75 435.58,255.94 436.9,256.0 437.9,256.7 438.1,257.9 439.38,256.98 439.4,255.4 441.25,255.0 442.32,255.88 442.5,257.25 442.96,258.61 444.4,258.75 446.25,258.25 448.1,259.1 450.0,260.0 451.9,259.5 453.75,259.1 455.6,259.5 457.5,260.0 458.97,259.95 460.0,261.0 461.34,261.09 462.5,260.4 463.97,260.18 465.0,261.25 466.39,261.48 467.5,260.6 468.75,260.13 470.0,261.36 471.25,260.6 472.66,260.31 473.75,261.25 475.25,261.59 475.99,259.63 477.5,260.0 478.91,260.38 480.0,259.4 481.7,259.72 482.5,261.25 483.97,261.07 485.0,260.0 486.01,258.74 487.5,258.1 488.52,259.36 490.0,260.0 491.4,259.66 492.5,260.6 493.91,260.33 495.0,259.4 496.46,259.57 497.5,260.6 499.11,259.85 499.4,258.1 500.93,258.68 501.9,260.0 503.32,259.71 504.4,258.75 505.66,259.34 506.25,260.6 507.97,260.32 508.75,258.75 510.23,258.91 511.25,260.0 512.48,258.97 513.1,257.5 513.7,256.2 515.0,255.6 515.78,254.65 515.15,253.29 516.67,252.55 516.25,251.25 515.62,249.95 516.97,248.79 515.92,247.46 517.36,246.31 516.17,244.96 517.64,243.81 516.9,242.5 516.32,241.36 517.44,240.25 516.38,239.09 517.8,237.99 516.25,236.83 517.51,235.72 516.27,234.56 517.49,233.46 516.33,232.3 517.85,231.2 516.67,230.04 517.67,228.93 516.52,227.78 517.75,226.67 516.42,225.51 517.85,224.41 516.61,223.25 518.03,222.15 517.3,221.0 517.74,222.11 516.91,223.24 517.73,224.35 516.93,225.48 518.05,226.58 516.96,227.71 517.94,228.82 516.78,229.95 517.85,231.05 516.8,232.19 518.28,233.28 516.79,234.42 518.15,235.52 517.08,236.65 518.38,237.75 516.76,238.9 517.6,240.0" fill="none" stroke="#151515" stroke-width="1.15"  stroke-linejoin="round"/>
<text class="big" x="0.00" y="0.00" font-size="22" font-weight="normal" transform="translate(40.0,26.0) scale(0.96,1)">A</text>
<text class="big" x="0.00" y="0.00" font-size="22" font-weight="normal" transform="translate(38.9,177.9) scale(0.96,1)">B</text>
<text class="big" x="0.00" y="0.00" font-size="22" font-weight="normal" transform="translate(304.8,27.2) scale(0.96,1)">C</text>
<text class="big" x="0.00" y="0.00" font-size="22" font-weight="normal" transform="translate(309.6,180.2) scale(0.96,1)">D</text>
<text class="lab" x="88.35" y="42.45" font-size="9.9" font-weight="bold" textLength="70.25" lengthAdjust="spacingAndGlyphs">FITC-CONTROL</text>
<text class="lab" x="154.65" y="67.95" font-size="9.9" font-weight="bold" textLength="88.50" lengthAdjust="spacingAndGlyphs">ANTI-MHC CLASS II</text>
<text class="lab" x="359.25" y="22.55" font-size="9.9" font-weight="bold" textLength="70.70" lengthAdjust="spacingAndGlyphs">FITC-CONTROL</text>
<text class="lab" x="398.40" y="69.20" font-size="9.9" font-weight="bold" textLength="88.70" lengthAdjust="spacingAndGlyphs">ANTI-MHC CLASS II</text>
<text class="lab" x="89.15" y="188.70" font-size="9.9" font-weight="bold" textLength="69.95" lengthAdjust="spacingAndGlyphs">FITC-CONTROL</text>
<text class="lab" x="115.90" y="222.45" font-size="9.9" font-weight="bold" textLength="46.35" lengthAdjust="spacingAndGlyphs">ANTI-CLIP</text>
<text class="lab" x="361.65" y="174.70" font-size="9.9" font-weight="bold" textLength="70.70" lengthAdjust="spacingAndGlyphs">FITC-CONTROL</text>
<text class="lab" x="409.65" y="214.25" font-size="9.9" font-weight="bold" textLength="45.90" lengthAdjust="spacingAndGlyphs">ANTI-CLIP</text>
<text class="lab" x="69.55" y="294.65" font-size="9.9" font-weight="bold" textLength="128.70" lengthAdjust="spacingAndGlyphs">FLUORESCENCE INTENSITY</text>
<text class="lab" x="341.55" y="294.05" font-size="9.9" font-weight="bold" textLength="128.70" lengthAdjust="spacingAndGlyphs">FLUORESCENCE INTENSITY</text>
<text class="lab" x="0.00" y="0.00" font-size="9.9" font-weight="bold" textLength="118.2" lengthAdjust="spacingAndGlyphs" transform="translate(8.7,117.1) rotate(-90.55)">RELATIVE CELL NUMBER</text>
<text class="lab" x="0.00" y="0.00" font-size="9.9" font-weight="bold" textLength="116.0" lengthAdjust="spacingAndGlyphs" transform="translate(9.1,270.9) rotate(-90.1)">RELATIVE CELL NUMBER</text>
<text class="tk" x="28.70" y="118.43" font-size="4.8" font-weight="bold" text-anchor="middle">1</text>
<text class="tk" x="100.63" y="118.40" font-size="4.8" font-weight="bold" text-anchor="middle">10</text>
<text class="tk" x="172.57" y="118.37" font-size="4.8" font-weight="bold" text-anchor="middle">100</text>
<text class="tk" x="245.80" y="118.33" font-size="4.8" font-weight="bold" text-anchor="end">1000</text>
<text class="tk" x="0.00" y="0.00" font-size="4.9" font-weight="bold" text-anchor="middle" transform="translate(25.80,111.80) rotate(-90) scale(1,0.78)">0</text>
<text class="tk" x="0.00" y="0.00" font-size="4.9" font-weight="bold" text-anchor="middle" transform="translate(25.54,85.70) rotate(-90) scale(1,0.78)">64</text>
<text class="tk" x="0.00" y="0.00" font-size="4.9" font-weight="bold" text-anchor="middle" transform="translate(25.27,58.60) rotate(-90) scale(1,0.78)">128</text>
<text class="tk" x="0.00" y="0.00" font-size="4.9" font-weight="bold" text-anchor="middle" transform="translate(25.01,31.50) rotate(-90) scale(1,0.78)">192</text>
<text class="tk" x="0.00" y="0.00" font-size="4.9" font-weight="bold" text-anchor="end" transform="translate(24.75,3.90) rotate(-90) scale(1,0.78)">256</text>
<text class="tk" x="29.30" y="270.15" font-size="4.8" font-weight="bold" text-anchor="middle">1</text>
<text class="tk" x="101.30" y="269.95" font-size="4.8" font-weight="bold" text-anchor="middle">10</text>
<text class="tk" x="173.30" y="269.75" font-size="4.8" font-weight="bold" text-anchor="middle">100</text>
<text class="tk" x="246.60" y="269.55" font-size="4.8" font-weight="bold" text-anchor="end">1000</text>
<text class="tk" x="0.00" y="0.00" font-size="4.9" font-weight="bold" text-anchor="middle" transform="translate(27.00,263.70) rotate(-90) scale(1,0.78)">0</text>
<text class="tk" x="0.00" y="0.00" font-size="4.9" font-weight="bold" text-anchor="middle" transform="translate(26.75,237.75) rotate(-90) scale(1,0.78)">64</text>
<text class="tk" x="0.00" y="0.00" font-size="4.9" font-weight="bold" text-anchor="middle" transform="translate(26.50,210.80) rotate(-90) scale(1,0.78)">128</text>
<text class="tk" x="0.00" y="0.00" font-size="4.9" font-weight="bold" text-anchor="middle" transform="translate(26.25,183.85) rotate(-90) scale(1,0.78)">192</text>
<text class="tk" x="0.00" y="0.00" font-size="4.9" font-weight="bold" text-anchor="end" transform="translate(26.00,156.40) rotate(-90) scale(1,0.78)">256</text>
<text class="tk" x="298.70" y="119.12" font-size="4.8" font-weight="bold" text-anchor="middle">1</text>
<text class="tk" x="370.70" y="118.49" font-size="4.8" font-weight="bold" text-anchor="middle">10</text>
<text class="tk" x="442.70" y="117.87" font-size="4.8" font-weight="bold" text-anchor="middle">100</text>
<text class="tk" x="516.00" y="117.24" font-size="4.8" font-weight="bold" text-anchor="end">1000</text>
<text class="tk" x="0.00" y="0.00" font-size="4.9" font-weight="bold" text-anchor="middle" transform="translate(295.50,112.40) rotate(-90) scale(1,0.78)">0</text>
<text class="tk" x="0.00" y="0.00" font-size="4.9" font-weight="bold" text-anchor="middle" transform="translate(295.12,86.50) rotate(-90) scale(1,0.78)">64</text>
<text class="tk" x="0.00" y="0.00" font-size="4.9" font-weight="bold" text-anchor="middle" transform="translate(294.75,59.60) rotate(-90) scale(1,0.78)">128</text>
<text class="tk" x="0.00" y="0.00" font-size="4.9" font-weight="bold" text-anchor="middle" transform="translate(294.38,32.70) rotate(-90) scale(1,0.78)">192</text>
<text class="tk" x="0.00" y="0.00" font-size="4.9" font-weight="bold" text-anchor="end" transform="translate(294.00,5.30) rotate(-90) scale(1,0.78)">256</text>
<text class="tk" x="300.50" y="271.71" font-size="4.8" font-weight="bold" text-anchor="middle">1</text>
<text class="tk" x="372.50" y="270.74" font-size="4.8" font-weight="bold" text-anchor="middle">10</text>
<text class="tk" x="444.50" y="269.78" font-size="4.8" font-weight="bold" text-anchor="middle">100</text>
<text class="tk" x="517.80" y="268.82" font-size="4.8" font-weight="bold" text-anchor="end">1000</text>
<text class="tk" x="0.00" y="0.00" font-size="4.9" font-weight="bold" text-anchor="middle" transform="translate(298.00,265.00) rotate(-90) scale(1,0.78)">0</text>
<text class="tk" x="0.00" y="0.00" font-size="4.9" font-weight="bold" text-anchor="middle" transform="translate(297.62,239.05) rotate(-90) scale(1,0.78)">64</text>
<text class="tk" x="0.00" y="0.00" font-size="4.9" font-weight="bold" text-anchor="middle" transform="translate(297.25,212.10) rotate(-90) scale(1,0.78)">128</text>
<text class="tk" x="0.00" y="0.00" font-size="4.9" font-weight="bold" text-anchor="middle" transform="translate(296.88,185.15) rotate(-90) scale(1,0.78)">192</text>
<text class="tk" x="0.00" y="0.00" font-size="4.9" font-weight="bold" text-anchor="end" transform="translate(296.50,157.70) rotate(-90) scale(1,0.78)">256</text>
</svg>
</body></html>
